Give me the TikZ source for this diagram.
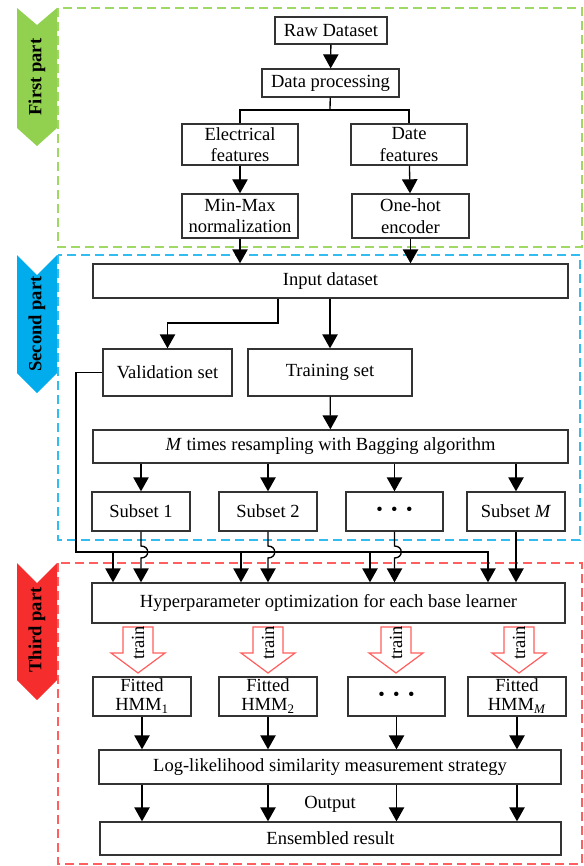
\documentclass[tikz,border=0pt]{standalone}
\usepackage{fontspec}
\setmainfont{Liberation Serif}
\usetikzlibrary{arrows.meta}
\definecolor{greenpart}{RGB}{146,208,80}
\definecolor{bluepart}{RGB}{0,172,235}
\definecolor{redpart}{RGB}{245,45,45}
\definecolor{greenframe}{RGB}{160,216,100}
\definecolor{blueframe}{RGB}{50,188,240}
\definecolor{redframe}{RGB}{255,95,95}
\begin{document}
\begin{tikzpicture}[x=0.75pt, y=-0.75pt, line width=1pt,
  box/.style={draw=black!80, fill=white, inner sep=1pt, align=center,
    font=\fontsize{13.9}{16}\selectfont},
  arr/.style={-{Triangle[width=11.5pt,length=10.5pt]}},
  frame/.style={dash pattern=on 7pt off 3.5pt},
  tag/.style={rotate=90, font=\fontsize{13.9}{16}\selectfont\bfseries},
  trainarrow/.style={draw=redframe, fill=white, line width=0.9pt}]
\useasboundingbox (0,0) rectangle (584,866);

\draw[greenframe, frame] (58,8) rectangle (582,247);
\draw[blueframe, frame] (58,255) rectangle (580,540);
\draw[redframe, frame] (58,563) rectangle (582,864);

\fill[greenpart] (17,8) -- (37,25) -- (57,8) -- (57,128) -- (37,146) -- (17,128) -- cycle;
\fill[bluepart] (17,255) -- (37,275) -- (57,255) -- (57,373) -- (37,393) -- (17,373) -- cycle;
\fill[redpart] (17,563) -- (37,583) -- (57,563) -- (57,680) -- (37,700) -- (17,680) -- cycle;
\node[tag] (first) at (37,77) {First part};
\node[tag] (second) at (37,324) {Second part};
\node[tag] (third) at (37,630) {Third part};

\node[box, minimum width=84pt, minimum height=20.25pt] (raw) at (331,30.5) {Raw Dataset};
\node[box, minimum width=102.75pt, minimum height=21pt] (proc) at (330.5,83) {Data processing};
\node[box, minimum width=87pt, minimum height=30.75pt] (elec) at (240,144.5) {Electrical\\features};
\node[box, minimum width=87pt, minimum height=30.75pt] (date) at (409,144.5) {Date\\features};
\node[box, minimum width=87pt, minimum height=33pt] (minmax) at (240,216) {Min-Max\\normalization};
\node[box, minimum width=87.75pt, minimum height=33pt] (onehot) at (410.5,216) {One-hot\\encoder};

\node[box, minimum width=356.25pt, minimum height=25.5pt] (input) at (330.5,281) {Input dataset};
\node[box, minimum width=96.75pt, minimum height=35.25pt] (valid) at (167.5,372.5) {Validation set};
\node[box, minimum width=123pt, minimum height=35.25pt] (train) at (330,372.5) {Training set};
\node[box, minimum width=356.25pt, minimum height=24.75pt] (bag) at (330.5,446.5)
  {\textit{M} times resampling with Bagging algorithm};
\node[box, minimum width=73.5pt, minimum height=29.25pt] (sub1) at (141,511.5) {Subset 1};
\node[box, minimum width=73.5pt, minimum height=29.25pt] (sub2) at (268,511.5) {Subset 2};
\node[box, minimum width=72.75pt, minimum height=29.25pt] (subdots) at (394.5,511.5)
  {\textbullet\hspace{0.45em}\textbullet\hspace{0.45em}\textbullet};
\node[box, minimum width=73.5pt, minimum height=29.25pt] (subM) at (516,511.5) {Subset \textit{M}};

\node[box, minimum width=354.75pt, minimum height=30pt] (hyper) at (328.5,603)
  {Hyperparameter optimization for each base learner};
\node[box, minimum width=73.5pt, minimum height=29.25pt, font=\fontsize{13.9}{14.25}\selectfont] (fit1) at (142,696.5) {Fitted\\HMM\textsubscript{1}};
\node[box, minimum width=73.5pt, minimum height=29.25pt, font=\fontsize{13.9}{14.25}\selectfont] (fit2) at (268,696.5) {Fitted\\HMM\textsubscript{2}};
\node[box, minimum width=72.75pt, minimum height=29.25pt] (fitdots) at (396.5,696.5)
  {\textbullet\hspace{0.45em}\textbullet\hspace{0.45em}\textbullet};
\node[box, minimum width=73.5pt, minimum height=29.25pt, font=\fontsize{13.9}{14.25}\selectfont] (fitM) at (517,696.5) {Fitted\\HMM\textsubscript{\textit{M}}};
\node[box, minimum width=346.5pt, minimum height=25.5pt] (loglik) at (330,767)
  {Log-likelihood similarity measurement strategy};
\node[box, minimum width=345.75pt, minimum height=24.75pt] (ens) at (330.5,838.5) {Ensembled result};
\node[font=\fontsize{13.9}{16}\selectfont] (outlbl) at (330,804) {Output};

\coordinate (split) at (330,110);
\coordinate (vsplit) at (278,323);
\coordinate (bus) at (76,552);
\coordinate (busend) at (488,552);

\draw[arr] (raw) -- (proc);
\draw (proc) -- (split);
\draw (elec.north) |- (split) -| (date.north);
\draw[arr] (elec) -- (minmax);
\draw[arr] (date) -- (onehot);
\draw[arr] (minmax) -- (minmax |- input.north);
\draw[arr] (onehot) -- (onehot |- input.north);

\draw[arr] (input.south -| vsplit) -- (vsplit) -| (valid.north);
\draw[arr] (input.south -| train) -- (train);
\draw[arr] (train) -- (bag);
\foreach \n in {sub1,sub2,subdots,subM}
  \draw[arr] (bag.south -| \n) -- (\n);

\draw[arr] (valid.west) -| (bus) -| (busend |- hyper.north);
\foreach \x in {113,241,370}
  \draw[arr] (\x,552) -- (\x,552 |- hyper.north);
\foreach \n in {sub1,sub2,subdots}
  \draw[arr] (\n.south) -- ([yshift=4.5pt]\n.south |- bus)
    .. controls +(9,0) and +(9,0) .. ([yshift=-4.5pt]\n.south |- bus)
    -- (\n.south |- hyper.north);
\draw[arr] (subM.south) -- (subM.south |- hyper.north);

\foreach \c in {138,268,396,519} {
  \draw[trainarrow] ({\c-15},627) -- ({\c+15},627) -- ({\c+15},653) -- ({\c+27},653)
    -- (\c,673) -- ({\c-27},653) -- ({\c-15},653) -- cycle;
  \node[rotate=90, font=\fontsize{13.9}{16}\selectfont] at (\c,643) {train};
}

\foreach \n in {fit1,fit2,fitdots,fitM} {
  \draw[arr] (\n) -- (\n.south |- loglik.north);
  \draw[arr] (\n.south |- loglik.south) -- (\n.south |- ens.north);
}
\end{tikzpicture}
\end{document}
